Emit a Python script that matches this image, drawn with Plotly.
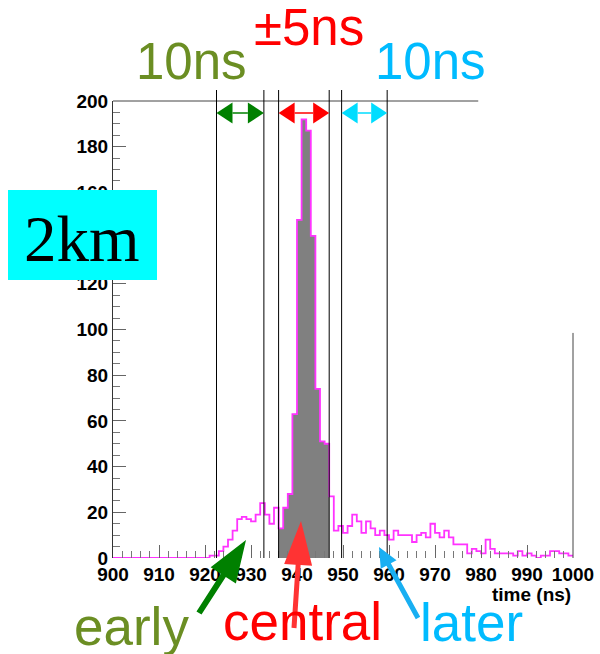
import math
import plotly.graph_objects as go

# ---- histogram contents: 1 ns bins, 900-1000 ns ----
bin_start = list(range(900, 1000))
counts = (
    [0] * 21                                                   # 900-920
    + [1, 1, 3, 5, 8, 12, 17, 18, 17, 16, 19, 24, 19, 15, 22]  # 921-935
    + [13, 22, 28, 63, 148, 192, 187, 141, 74, 51, 50]         # 936-946
    + [27, 12, 14, 11, 14, 19, 16, 11, 16, 13, 10, 12, 10,     # 947-959
       8, 12, 10, 10, 10, 7, 10, 11, 9, 15, 11, 9, 12]         # 960-972
    + [9, 6, 6, 6, 2, 4, 3, 2, 8, 4, 2, 2, 2, 2, 1, 3, 1,      # 973-989
       2, 1, 0, 1, 1, 3, 3, 2, 2, 1]                           # 990-999
)

# time windows (ns)
early_win = (922.5, 932.8)
central_win = (936.0, 947.0)
later_win = (949.7, 959.6)

x_ticks = list(range(900, 1001, 10))
y_ticks = list(range(0, 201, 20))
x_range = (900, 1000)
y_range = (0, 200)

# ---- layout geometry (pixels) ----
W, H = 600, 654
L, R, T, B = 113, 27, 101, 96
PW, PH = W - L - R, H - T - B

FONT = "Liberation Sans, Arial, Helvetica, sans-serif"
OLIVE = "#6b8e23"
GREEN = "#008000"
RED = "#ff0000"
RED_ARROW = "#ff3333"
SKY = "#00bbff"
SKY_TOP = "#00ddff"
SKY_ARROW = "#18aff2"
MAGENTA = "#ff33ff"


def xd(v):  # data -> paper x
    return (v - x_range[0]) / (x_range[1] - x_range[0])


def yd(v):  # data -> paper y
    return (v - y_range[0]) / (y_range[1] - y_range[0])


def xp(px):  # pixel -> paper x
    return (px - L) / PW


def yp(py):  # pixel -> paper y
    return (T + PH - py) / PH


def path_px(points):
    return "M " + " L ".join(f"{xp(x):.5f},{yp(y):.5f}" for x, y in points) + " Z"


def data_to_px(v):
    return L + xd(v) * PW


# ---- traces ----
central_x = [b + 0.5 for b, c in zip(bin_start, counts) if central_win[0] <= b < central_win[1]]
central_y = [c for b, c in zip(bin_start, counts) if central_win[0] <= b < central_win[1]]

fig = go.Figure()
fig.add_trace(go.Bar(
    x=central_x, y=central_y, width=1.0,
    marker=dict(color="#808080", line=dict(width=0)),
    hoverinfo="skip", showlegend=False,
))
fig.add_trace(go.Scatter(
    x=bin_start + [x_range[1]], y=counts + [counts[-1]],
    mode="lines", line=dict(color=MAGENTA, width=1.8, shape="hv"),
    hoverinfo="skip", showlegend=False,
))

shapes = []

# partial frame: top edge and right edge stub
shapes.append(dict(type="line", xref="paper", yref="paper",
                   x0=0, x1=xd(979.4), y0=1.0, y1=1.0,
                   line=dict(color="#444", width=1)))
shapes.append(dict(type="line", xref="paper", yref="paper",
                   x0=1.0, x1=1.0, y0=0, y1=yd(98.5),
                   line=dict(color="#444", width=1)))

# window boundaries
for v in early_win + central_win + later_win:
    shapes.append(dict(type="line", xref="paper", yref="paper",
                       x0=xd(v), x1=xd(v), y0=0, y1=yp(90),
                       line=dict(color="black", width=1)))

# double-headed arrows above each window
arrow_y = 113
for (a, b), col in ((early_win, GREEN), (central_win, RED), (later_win, SKY_TOP)):
    xa, xb = data_to_px(a), data_to_px(b)
    hl, hh = 16, 10.5
    shapes.append(dict(type="line", xref="paper", yref="paper",
                       x0=xp(xa + hl), x1=xp(xb - hl), y0=yp(arrow_y), y1=yp(arrow_y),
                       line=dict(color=col, width=1.5)))
    for tip, base in ((xa, xa + hl), (xb, xb - hl)):
        shapes.append(dict(type="path", xref="paper", yref="paper",
                           path=path_px([(tip, arrow_y), (base, arrow_y - hh), (base, arrow_y + hh)]),
                           fillcolor=col, line=dict(width=0)))


def block_arrow(tail, tip, head_len, head_half, shaft_w, col):
    dx, dy = tip[0] - tail[0], tip[1] - tail[1]
    n = math.hypot(dx, dy)
    ux, uy = dx / n, dy / n
    nx, ny = -uy, ux
    bx, by = tip[0] - ux * head_len, tip[1] - uy * head_len
    s = shaft_w / 2
    pts = [
        (tail[0] + nx * s, tail[1] + ny * s),
        (bx + nx * s, by + ny * s),
        (bx + nx * head_half, by + ny * head_half),
        tip,
        (bx - nx * head_half, by - ny * head_half),
        (bx - nx * s, by - ny * s),
        (tail[0] - nx * s, tail[1] - ny * s),
    ]
    return dict(type="path", xref="paper", yref="paper", path=path_px(pts),
                fillcolor=col, line=dict(width=0), layer="above")


shapes.append(block_arrow((199, 613), (246, 540), 42, 15, 6, GREEN))
shapes.append(block_arrow((294, 628), (301, 521), 44, 14, 5, RED_ARROW))
shapes.append(block_arrow((418, 618), (379, 547), 20, 9, 5, SKY_ARROW))

# "2km" label box
shapes.append(dict(type="rect", xref="paper", yref="paper",
                   x0=xp(8), x1=xp(157), y0=yp(280), y1=yp(190),
                   fillcolor="#00ffff", line=dict(width=0), layer="above"))

annotations = []


def label(text, x, y, size, color, family=FONT, xanchor="center", weight="normal"):
    annotations.append(dict(
        text=text, xref="paper", yref="paper", x=xp(x), y=yp(y),
        xanchor=xanchor, yanchor="middle", showarrow=False,
        font=dict(family=family, size=size, color=color, weight=weight),
    ))


label("10ns", 191, 62, 51, OLIVE)
label("±5ns", 309, 28, 51, RED)
label("10ns", 430, 62, 51, SKY)
label("2km", 82, 239, 65, "black", family="Liberation Serif, Times New Roman, serif")
label("early", 131, 626, 53, OLIVE)
label("central", 302, 621, 53, RED)
label("later", 471, 622, 53, SKY)
label("time (ns)", 573, 594, 19, "black", xanchor="right", weight="bold")

axis_font = dict(family=FONT, size=19, color="black", weight="bold")

fig.update_layout(
    width=W, height=H,
    margin=dict(l=L, r=R, t=T, b=B, pad=0, autoexpand=False),
    paper_bgcolor="white", plot_bgcolor="white",
    bargap=0, showlegend=False,
    shapes=shapes, annotations=annotations,
    xaxis=dict(
        range=list(x_range), tickvals=x_ticks, ticktext=[str(v) for v in x_ticks],
        ticks="inside", ticklen=13, tickwidth=1, tickcolor="#666",
        minor=dict(ticks="inside", dtick=2, ticklen=7, tickwidth=1, tickcolor="#777"),
        showline=False, showgrid=False, zeroline=False, automargin=False,
        ticklabelstandoff=3,
        tickfont=axis_font, fixedrange=True,
    ),
    yaxis=dict(
        range=list(y_range), tickvals=y_ticks, ticktext=[str(v) for v in y_ticks],
        ticks="inside", ticklen=13, tickwidth=1, tickcolor="#666",
        minor=dict(ticks="inside", dtick=5, ticklen=7, tickwidth=1, tickcolor="#777"),
        showline=True, linecolor="#333", linewidth=1,
        showgrid=False, zeroline=False, automargin=False,
        tickfont=axis_font, fixedrange=True,
    ),
)

fig.write_html("out.html")
